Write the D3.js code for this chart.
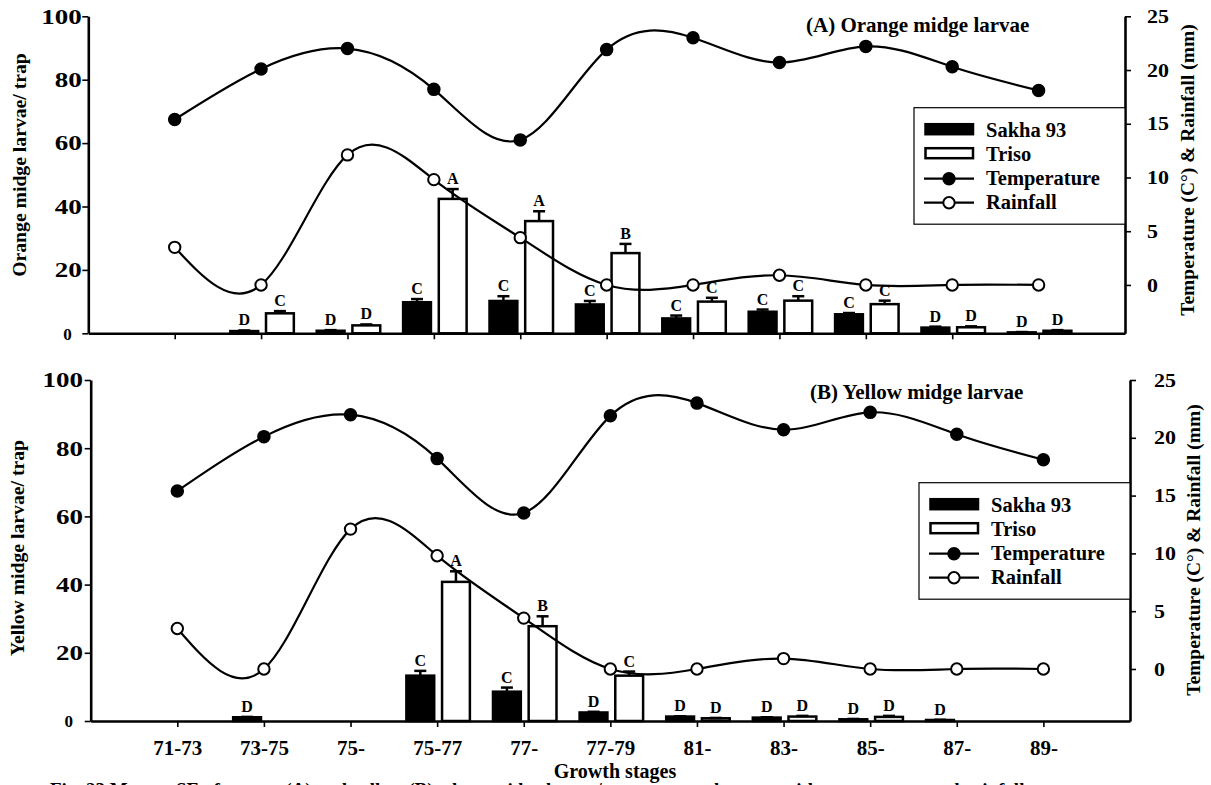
<!DOCTYPE html>
<html>
<head>
<meta charset="utf-8">
<script src="https://cdn.jsdelivr.net/npm/d3@7"></script>
<style>
  html, body { margin: 0; padding: 0; background: #fff; }
  svg { display: block; }
  text { font-family: "Liberation Serif", "Times New Roman", serif; font-weight: bold; fill: #000; }
</style>
</head>
<body>
<svg id="chart" width="1211" height="785"></svg>
<script>
// ---------------- data ----------------
const stages = ["71-73","73-75","75-","75-77","77-","77-79","81-","83-","85-","87-","89-"];
const varieties = ["Sakha 93","Triso"];
const rightTicks = [0,5,10,15,20,25];
const leftTicks = [0,20,40,60,80,100];

const temperature = [15.4, 20.1, 22.0, 18.2, 13.5, 21.9, 23.0, 20.7, 22.2, 20.3, 18.1];
const rainfall    = [3.5, 0, 12.1, 9.8, 4.4, 0, 0, 0.9, 0, 0, 0];

const orangeSakha   = [0, 0.7, 0.8, 9.8, 10.2, 9.1, 4.7, 6.8, 6.0, 1.8, 0.3];
const orangeSakhaSE = [0, 0.2, 0.2, 1.0, 1.5, 1.1, 0.9, 0.7, 0.4, 0.3, 0.1];
const orangeTriso   = [0, 6.3, 2.5, 42.4, 35.4, 25.3, 10.0, 10.3, 9.2, 1.9, 0.8];
const orangeTrisoSE = [0, 0.7, 0.3, 3.1, 3.1, 2.9, 1.2, 1.4, 1.1, 0.3, 0.2];
const orangeSakhaLetters = ["", "D","D","C","C","C","C","C","C","D","D"];
const orangeTrisoLetters = ["", "C","D","A","A","B","C","C","C","D","D"];

const yellowSakha   = [0, 1.1, 0, 13.3, 8.6, 2.5, 1.3, 1.0, 0.5, 0.3, 0];
const yellowSakhaSE = [0, 0.1, 0, 1.4, 1.2, 0.2, 0.1, 0.1, 0.1, 0.05, 0];
const yellowTriso   = [0, 0, 0, 40.8, 27.8, 13.3, 0.8, 1.3, 1.2, 0, 0];
const yellowTrisoSE = [0, 0, 0, 3.1, 2.9, 1.2, 0.1, 0.2, 0.3, 0, 0];
const yellowSakhaLetters = ["", "D","","C","C","D","D","D","D","D",""];
const yellowTrisoLetters = ["", "","","A","B","C","D","D","D","",""];

const legendItems = ["Sakha 93","Triso","Temperature","Rainfall"];

// ---------------- layout ----------------
const panels = [
  { left: 88.3, right: 1125, top: 16.3, bottom: 333.3,
    title: "(A) Orange midge larvae", titleX: 806, titleY: 32.3,
    yLabel: "Orange midge larvae/ trap", yLabelX: 26, yLabelY: 165,
    rLabelX: 1193.5, rLabelY: 170, rTickX: 22, lTickEnd: 6.6,
    legX: 914, legY: 107.7, xLabels: false,
    sakha: orangeSakha, sakhaSE: orangeSakhaSE, triso: orangeTriso, trisoSE: orangeTrisoSE,
    sakhaL: orangeSakhaLetters, trisoL: orangeTrisoLetters },
  { left: 90.7, right: 1130, top: 380, bottom: 721,
    title: "(B) Yellow midge larvae", titleX: 810, titleY: 399.3,
    yLabel: "Yellow midge larvae/ trap", yLabelX: 24, yLabelY: 548,
    rLabelX: 1200, rLabelY: 550, rTickX: 24, lTickEnd: 7.7,
    legX: 919, legY: 482.7, xLabels: true,
    sakha: yellowSakha, sakhaSE: yellowSakhaSE, triso: yellowTriso, trisoSE: yellowTrisoSE,
    sakhaL: yellowSakhaLetters, trisoL: yellowTrisoLetters }
];

const svg = d3.select("#chart");

panels.forEach(p => {
  const g = svg.append("g");
  const x = d3.scalePoint().domain(stages).range([p.left, p.right]).padding(1);
  const x1 = d3.scaleBand().domain(varieties).range([-32, 34]).paddingInner(0.15);
  const y = d3.scaleLinear().domain([0, 100]).range([p.bottom, p.top]);
  const yR = d3.scaleLinear().domain([-4.5, 25]).range([p.bottom, p.top]);

  // ---- bars ----
  const series = [
    { name: "Sakha 93", vals: p.sakha, se: p.sakhaSE, letters: p.sakhaL, fill: "#000" },
    { name: "Triso", vals: p.triso, se: p.trisoSE, letters: p.trisoL, fill: "#fff" }
  ];
  series.forEach(s => {
    const data = stages.map((st, i) => ({ st, v: s.vals[i], se: s.se[i], l: s.letters[i] }));
    const bw = x1.bandwidth();
    const gb = g.append("g");
    gb.selectAll("rect").data(data.filter(d => d.v > 0)).join("rect")
      .attr("x", d => x(d.st) + x1(s.name) + 1.25)
      .attr("width", bw - 2.5)
      .attr("y", d => y(d.v))
      .attr("height", d => Math.max(0, y(0) - y(d.v)))
      .attr("fill", s.fill).attr("stroke", "#000").attr("stroke-width", 2.5);
    // error bars
    const ge = gb.selectAll("g.err").data(data.filter(d => d.v > 0 && d.se > 0)).join("g").attr("class", "err");
    ge.append("line")
      .attr("x1", d => x(d.st) + x1(s.name) + bw / 2).attr("x2", d => x(d.st) + x1(s.name) + bw / 2)
      .attr("y1", d => y(d.v)).attr("y2", d => y(d.v + d.se))
      .attr("stroke", "#000").attr("stroke-width", 2.5);
    ge.append("line")
      .attr("x1", d => x(d.st) + x1(s.name) + bw / 2 - 6).attr("x2", d => x(d.st) + x1(s.name) + bw / 2 + 6)
      .attr("y1", d => y(d.v + d.se)).attr("y2", d => y(d.v + d.se))
      .attr("stroke", "#000").attr("stroke-width", 2.5);
    // letters
    gb.selectAll("text").data(data.filter(d => d.l)).join("text")
      .attr("x", d => x(d.st) + x1(s.name) + bw / 2)
      .attr("y", d => y(d.v + d.se) - 5)
      .attr("text-anchor", "middle").style("font-size", "16px")
      .text(d => d.l);
  });

  // ---- lines ----
  const curve = d3.curveNatural;
  const line = d3.line().x((d, i) => x(stages[i])).y(d => yR(d)).curve(curve);
  g.append("path").attr("d", line(temperature)).attr("fill", "none").attr("stroke", "#000").attr("stroke-width", 2.2);
  g.append("path").attr("d", line(rainfall)).attr("fill", "none").attr("stroke", "#000").attr("stroke-width", 2.2);
  g.append("g").selectAll("circle").data(temperature).join("circle")
    .attr("cx", (d, i) => x(stages[i])).attr("cy", d => yR(d)).attr("r", 6)
    .attr("fill", "#000").attr("stroke", "#000").attr("stroke-width", 1.5);
  g.append("g").selectAll("circle").data(rainfall).join("circle")
    .attr("cx", (d, i) => x(stages[i])).attr("cy", d => yR(d)).attr("r", 5.7)
    .attr("fill", "#fff").attr("stroke", "#000").attr("stroke-width", 2);

  // ---- axes ----
  const ax = g.append("g").attr("transform", `translate(0,${p.bottom})`)
    .call(d3.axisBottom(x).tickSize(6).tickSizeOuter(0).tickPadding(13).tickFormat(p.xLabels ? (d => d) : () => ""));
  const axL = g.append("g").attr("transform", `translate(${p.left},0)`)
    .call(d3.axisLeft(y).tickValues(leftTicks).tickSize(6).tickSizeOuter(0));
  const axR = g.append("g").attr("transform", `translate(${p.right},0)`)
    .call(d3.axisRight(yR).tickValues(rightTicks).tickSize(6).tickSizeOuter(0));
  [ax, axL, axR].forEach(a => {
    a.select(".domain").attr("stroke", "#000").attr("stroke-width", 2.6);
    a.selectAll(".tick line").attr("stroke", "#000").attr("stroke-width", 1.6);
    a.attr("font-family", null).attr("font-size", null);
  });
  ax.selectAll(".tick text").style("font-size", "21px");
  axL.selectAll(".tick text").each(function(d) {
    const t = d3.select(this);
    if (d === 0) {
      t.style("font-size", "17px").attr("x", -(p.lTickEnd + 10)).attr("dy", "0.34em");
    } else {
      t.style("font-size", "20px").attr("x", -p.lTickEnd / 1.35).attr("dy", "0.34em")
        .attr("transform", "scale(1.35,1)");
    }
  });
  axR.selectAll(".tick text").style("font-size", "18px")
    .attr("x", p.rTickX / 1.22).attr("dy", "0.34em").attr("transform", "scale(1.22,1)");

  // ---- titles ----
  g.append("text").attr("x", p.titleX).attr("y", p.titleY).style("font-size", "21px").text(p.title);
  g.append("text").attr("transform", `translate(${p.yLabelX},${p.yLabelY}) rotate(-90)`)
    .attr("text-anchor", "middle").style("font-size", "19.7px").text(p.yLabel);
  g.append("text").attr("transform", `translate(${p.rLabelX},${p.rLabelY}) rotate(-90)`)
    .attr("text-anchor", "middle").style("font-size", "19.5px").text("Temperature (C°) & Rainfall (mm)");

  // ---- legend ----
  const lg = g.append("g").attr("transform", `translate(${p.legX},${p.legY})`);
  lg.append("rect").attr("x", 0).attr("y", 0).attr("width", p.right - p.legX).attr("height", 116.5)
    .attr("fill", "#fff").attr("stroke", "#000").attr("stroke-width", 1.2);
  const rowY = [29, 53, 77, 101];
  legendItems.forEach((name, i) => {
    const ry = rowY[i];
    if (i < 2) {
      lg.append("rect").attr("x", 11.5).attr("y", ry - 12.5).attr("width", 47.5).attr("height", 10)
        .attr("fill", i === 0 ? "#000" : "#fff").attr("stroke", "#000").attr("stroke-width", 2.5);
    } else {
      lg.append("line").attr("x1", 10).attr("x2", 60).attr("y1", ry - 6).attr("y2", ry - 6)
        .attr("stroke", "#000").attr("stroke-width", 2.2);
      lg.append("circle").attr("cx", 35).attr("cy", ry - 6).attr("r", i === 2 ? 6 : 5.7)
        .attr("fill", i === 2 ? "#000" : "#fff").attr("stroke", "#000").attr("stroke-width", i === 2 ? 1.5 : 2);
    }
    lg.append("text").attr("x", 72).attr("y", ry).style("font-size", "20.5px").text(name);
  });
});

// ---- x-axis title and caption ----
svg.append("text").attr("x", 615).attr("y", 778).attr("text-anchor", "middle")
  .style("font-size", "20px").text("Growth stages");
svg.append("text").attr("x", 50).attr("y", 796)
  .style("font-size", "19px")
  .text("Fig. 23 Mean ± SE of orange (A) and yellow (B) wheat midge larvae/ trap at growth stages with temperature and rainfall");
</script>
</body>
</html>
